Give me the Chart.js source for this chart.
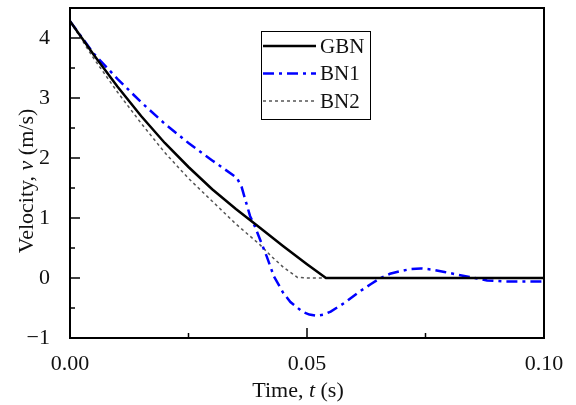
<!DOCTYPE html>
<html>
<head>
<meta charset="utf-8">
<script src="https://cdn.jsdelivr.net/npm/chart.js@4"></script>
<style>
  html, body { margin: 0; padding: 0; background: #fff; }
  #wrap { width: 576px; height: 405px; }
</style>
</head>
<body>
<div id="wrap"><canvas id="velChart" width="576" height="405"></canvas></div>
<script>
// series data (time in s, velocity in m/s)
const gbnTime = [0, 0.005, 0.01, 0.015, 0.02, 0.025, 0.03, 0.035, 0.04, 0.045, 0.05, 0.054, 0.1];
const gbnVel  = [4.28, 3.72, 3.19, 2.70, 2.25, 1.85, 1.48, 1.15, 0.84, 0.53, 0.23, 0, 0];

const bn1Time = [0, 0.005, 0.01, 0.015, 0.02, 0.025, 0.03, 0.0352, 0.0362, 0.037, 0.038, 0.039, 0.0415, 0.043,
                 0.045, 0.0465, 0.049, 0.0505, 0.052, 0.0535, 0.055, 0.058, 0.061, 0.0635, 0.0655, 0.0675,
                 0.07, 0.072, 0.074, 0.0765, 0.079, 0.0815, 0.084, 0.088, 0.092, 0.1];
const bn1Vel  = [4.28, 3.74, 3.32, 2.93, 2.57, 2.25, 1.96, 1.67, 1.52, 1.30, 1.03, 0.86, 0.36, 0.03,
                 -0.25, -0.40, -0.56, -0.61, -0.63, -0.61, -0.56, -0.41, -0.23, -0.10, 0, 0.07,
                 0.12, 0.15, 0.16, 0.14, 0.10, 0.06, 0.02, -0.04, -0.06, -0.06];

const bn2Time = [0, 0.005, 0.01, 0.015, 0.02, 0.025, 0.03, 0.035, 0.04, 0.0425, 0.045, 0.048, 0.05, 0.1];
const bn2Vel  = [4.28, 3.66, 3.10, 2.58, 2.09, 1.66, 1.28, 0.90, 0.56, 0.36, 0.18, 0.01, 0, 0];

const seriesNames = ['GBN', 'BN1', 'BN2'];
const xMajorLabels = [0, 0.05, 0.10];
const yMajorLabels = [-1, 0, 1, 2, 3, 4];

const serif = '"Liberation Serif", "Times New Roman", serif';

function toPoints(ts, vs) {
  return ts.map((t, i) => ({ x: t, y: vs[i] }));
}

function isMajor(v, list) {
  return list.some(m => Math.abs(v - m) < 1e-9);
}

// inward ticks, frame, axis titles and legend box
const decorations = {
  id: 'decorations',
  afterDraw(chart) {
    const c = chart.ctx;
    const a = chart.chartArea;
    const xs = chart.scales.x, ys = chart.scales.y;
    c.save();
    c.strokeStyle = '#000';
    c.lineWidth = 2;
    c.strokeRect(a.left, a.top, a.right - a.left, a.bottom - a.top);

    c.lineWidth = 1.5;
    xs.ticks.forEach(t => {
      const px = xs.getPixelForValue(t.value);
      const len = isMajor(t.value, xMajorLabels) ? 10 : 5;
      c.beginPath(); c.moveTo(px, a.bottom); c.lineTo(px, a.bottom - len); c.stroke();
    });
    ys.ticks.forEach(t => {
      const py = ys.getPixelForValue(t.value);
      const len = Number.isInteger(t.value) ? 10 : 5;
      c.beginPath(); c.moveTo(a.left, py); c.lineTo(a.left + len, py); c.stroke();
    });

    // x title
    c.fillStyle = '#111';
    c.textBaseline = 'alphabetic';
    const parts = [['Time, ', 'normal'], ['t', 'italic'], [' (s)', 'normal']];
    let w = 0;
    parts.forEach(p => { c.font = p[1] + ' 22px ' + serif; w += c.measureText(p[0]).width; });
    let x0 = 298 - w / 2;
    parts.forEach(p => {
      c.font = p[1] + ' 22px ' + serif;
      c.fillText(p[0], x0, 397);
      x0 += c.measureText(p[0]).width;
    });

    // y title
    const yparts = [['Velocity, ', 'normal'], ['v', 'italic'], [' (m/s)', 'normal']];
    w = 0;
    yparts.forEach(p => { c.font = p[1] + ' 22px ' + serif; w += c.measureText(p[0]).width; });
    c.translate(33, 181);
    c.rotate(-Math.PI / 2);
    let y0 = -w / 2;
    yparts.forEach(p => {
      c.font = p[1] + ' 22px ' + serif;
      c.fillText(p[0], y0, 0);
      y0 += c.measureText(p[0]).width;
    });
    c.setTransform(1, 0, 0, 1, 0, 0);

    // legend
    c.lineWidth = 1;
    c.strokeStyle = '#000';
    c.strokeRect(261.5, 31.5, 109, 88);
    chart.data.datasets.forEach((ds, i) => {
      const ly = 46 + i * 27.5;
      c.beginPath();
      c.strokeStyle = ds.borderColor;
      c.lineWidth = ds.borderWidth;
      c.setLineDash(ds.borderDash || []);
      c.moveTo(263, ly); c.lineTo(316, ly); c.stroke();
      c.setLineDash([]);
      c.fillStyle = '#111';
      c.font = '21px ' + serif;
      c.textBaseline = 'middle';
      c.fillText(ds.label, 320, ly + 1);
    });
    c.restore();
  }
};

new Chart(document.getElementById('velChart'), {
  type: 'line',
  data: {
    datasets: [
      {
        label: seriesNames[0],
        data: toPoints(gbnTime, gbnVel),
        borderColor: '#000000',
        borderWidth: 2.5,
        pointRadius: 0,
        tension: 0
      },
      {
        label: seriesNames[1],
        data: toPoints(bn1Time, bn1Vel),
        borderColor: '#0000ff',
        borderWidth: 2.5,
        borderDash: [11, 5, 3, 5],
        pointRadius: 0,
        tension: 0
      },
      {
        label: seriesNames[2],
        data: toPoints(bn2Time, bn2Vel),
        borderColor: '#555555',
        borderWidth: 1.5,
        borderDash: [3, 3],
        pointRadius: 0,
        tension: 0
      }
    ]
  },
  options: {
    responsive: false,
    animation: false,
    layout: { padding: { left: 0, right: 32, top: 8, bottom: 0 } },
    plugins: { legend: { display: false }, tooltip: { enabled: false } },
    scales: {
      x: {
        type: 'linear',
        min: 0,
        max: 0.1,
        grid: { display: false },
        border: { display: false },
        afterFit(s) { s.height = 67; },
        ticks: {
          stepSize: 0.025,
          autoSkip: false,
          maxRotation: 0,
          padding: 5,
          color: '#111',
          font: { family: serif, size: 22 },
          callback: v => isMajor(v, xMajorLabels) ? v.toFixed(2) : ''
        }
      },
      y: {
        min: -1,
        max: 4.5,
        grid: { display: false },
        border: { display: false },
        afterFit(s) { s.width = 70; s.paddingTop = 0; s.paddingBottom = 0; },
        ticks: {
          stepSize: 0.5,
          autoSkip: false,
          padding: 12,
          color: '#111',
          font: { family: serif, size: 22 },
          callback: v => isMajor(v, yMajorLabels) ? (v < 0 ? '\u2212' + Math.abs(v) : String(v)) : ''
        }
      }
    }
  },
  plugins: [decorations]
});
</script>
</body>
</html>
